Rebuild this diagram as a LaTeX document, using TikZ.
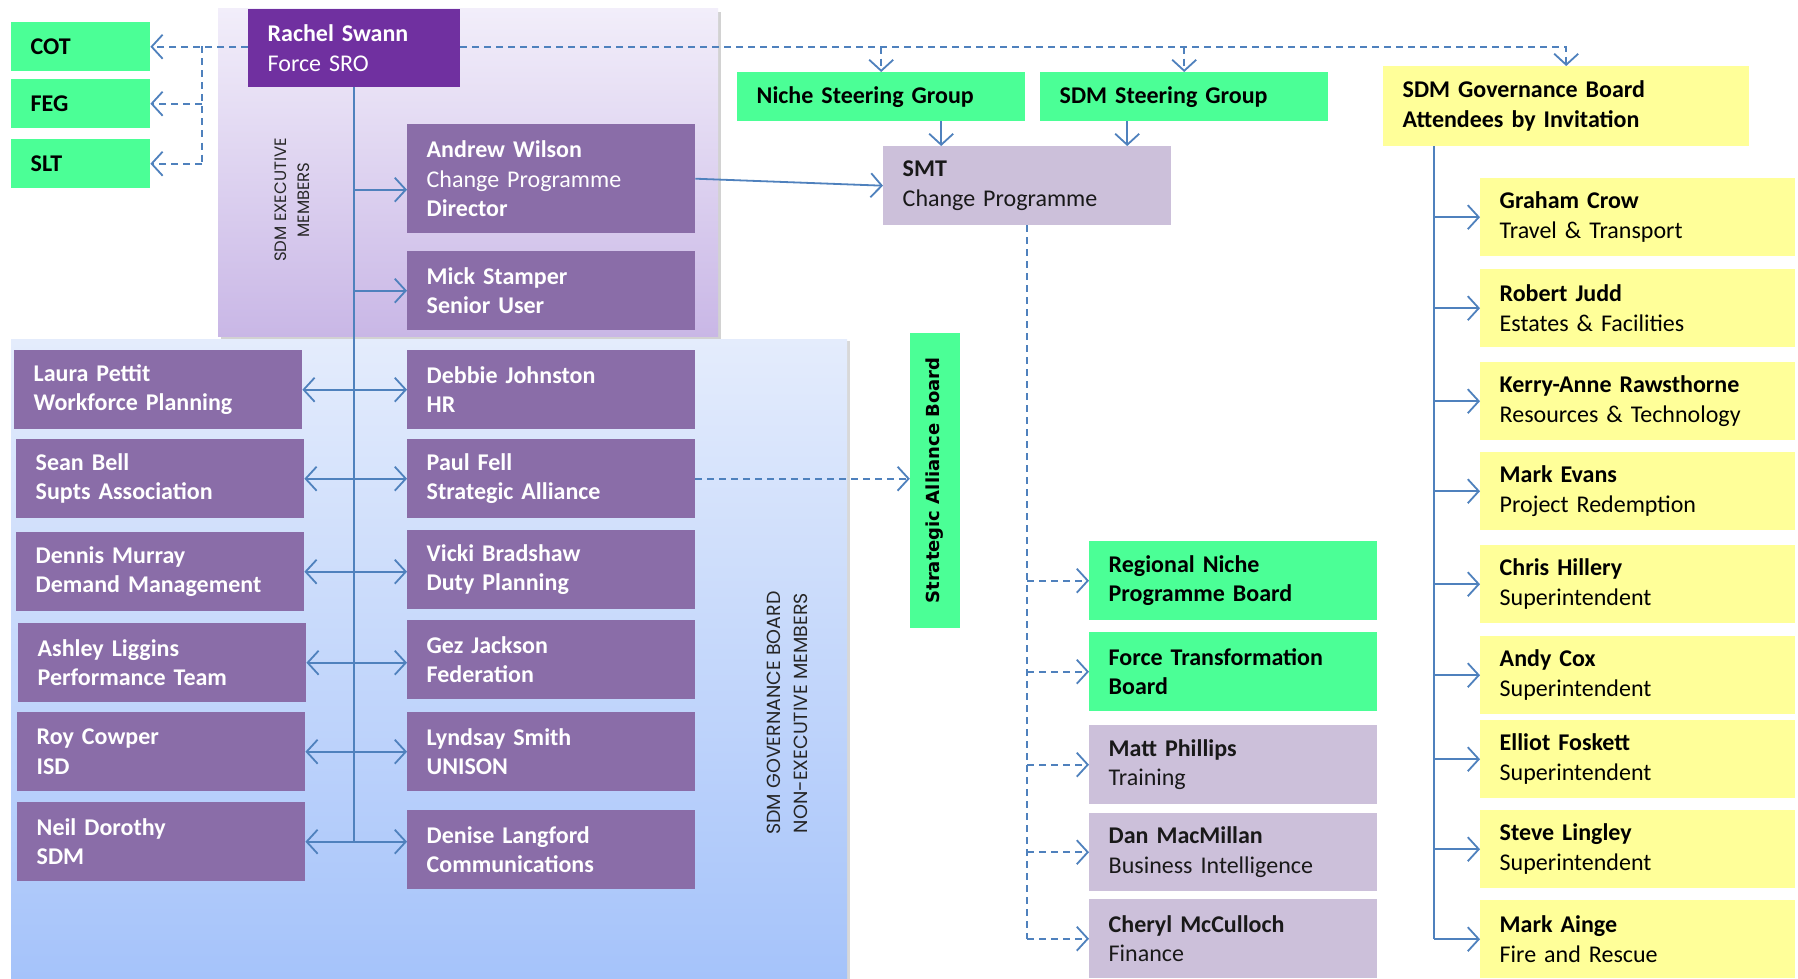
\documentclass[tikz,border=0pt]{standalone}
\usepackage{fontspec}
\setmainfont{Carlito}
\newfontfamily\capsfont{Poppins}
\newfontfamily\boardfont{DejaVu Sans}
\usetikzlibrary{arrows,arrows.meta,shapes,shadows}

\definecolor{sdmgreen}{HTML}{4BFF96}
\definecolor{sdmyellow}{HTML}{FFFF99}
\definecolor{sroviolet}{HTML}{7030A0}
\definecolor{memberviolet}{HTML}{8A6DA8}
\definecolor{smtlilac}{HTML}{CCC0DA}
\definecolor{linkblue}{HTML}{4F81BD}
\definecolor{exectop}{HTML}{F2EEFA}
\definecolor{execbottom}{HTML}{C9B7E6}
\definecolor{boardtop}{HTML}{E4ECFC}
\definecolor{boardbottom}{HTML}{A5C3FA}

\tikzset{
  orgbox/.style={rectangle, anchor=north west, align=left, inner xsep=19.5pt, inner ysep=0pt,
    minimum height=79pt, font=\fontsize{24}{29.5}\selectfont},
  tag/.style={orgbox, fill=sdmgreen, text=black, minimum width=139pt, text width=100pt,
    minimum height=49pt, font=\fontsize{24}{29.5}\selectfont\bfseries},
  member/.style={orgbox, fill=memberviolet, text=white, minimum width=288pt, text width=249pt,
    font=\fontsize{24}{29.5}\selectfont\bfseries},
  steer/.style={orgbox, fill=sdmgreen, text=black, minimum width=288pt, text width=249pt,
    font=\fontsize{24}{29.5}\selectfont\bfseries},
  lilac/.style={orgbox, fill=smtlilac, text=black!90, minimum width=288pt, text width=249pt},
  invitee/.style={orgbox, fill=sdmyellow, text=black, minimum width=315pt, text width=276pt, minimum height=78pt},
  panellabel/.style={rotate=90, align=center, text=black!85},
  link/.style={draw=linkblue, line width=1.8pt, ->},
  bilink/.style={draw=linkblue, line width=1.8pt, <->},
  bus/.style={draw=linkblue, line width=1.8pt},
  dashbus/.style={draw=linkblue, line width=1.8pt, dash pattern=on 7pt off 5pt},
  dashlink/.style={dashbus, ->}
}

\begin{document}
\begin{tikzpicture}[x = 1pt, y = -1pt, >={Straight Barb[length=11pt,width=24pt]}]
\useasboundingbox (0,0) rectangle (1798,979);
\fill[white] (0,0) rectangle (1798,979);

% panels
\shade[top color=boardtop, bottom color=boardbottom,
  drop shadow={shadow xshift=3pt, shadow yshift=-2pt, opacity=0.3}] (11,339) rectangle (847,979);
\shade[top color=exectop, bottom color=execbottom,
  drop shadow={shadow xshift=3pt, shadow yshift=-3pt, opacity=0.35}] (218,9) rectangle (718,336);
\node[panellabel, font=\capsfont\fontsize{16.5}{23}\selectfont] (execlabel) at (292,200) {SDM EXECUTIVE\\MEMBERS};
\node[panellabel, font=\capsfont\fontsize{19}{27}\selectfont] (nonexeclabel) at (787,713) {SDM GOVERNANCE BOARD\\NON-EXECUTIVE MEMBERS};

\node[tag] (cot) at (11,22) {COT};
\node[tag] (feg) at (11,79) {FEG};
\node[tag] (slt) at (11,139) {SLT};

\node[orgbox, fill=sroviolet, text=white, minimum width=212pt, text width=173pt, minimum height=78pt] (rachel) at (248,9) {\textbf{Rachel Swann}\\Force SRO};
\node[member, minimum height=109pt] (andrew) at (407,124) {Andrew Wilson\\{\mdseries Change Programme}\\Director};
\node[member] (mick) at (407,251) {Mick Stamper\\Senior User};

\node[member] (laura) at (14,350) {Laura Pettit\\Workforce Planning};
\node[member] (sean) at (16,439) {Sean Bell\\Supts Association};
\node[member] (dennis) at (16,532) {Dennis Murray\\Demand Management};
\node[member] (ashley) at (18,623) {Ashley Liggins\\Performance Team};
\node[member] (roy) at (17,712) {Roy Cowper\\ISD};
\node[member] (neil) at (17,802) {Neil Dorothy\\SDM};

\node[member] (debbie) at (407,350) {Debbie Johnston\\HR};
\node[member] (paul) at (407,439) {Paul Fell\\Strategic Alliance};
\node[member] (vicki) at (407,530) {Vicki Bradshaw\\Duty Planning};
\node[member] (gez) at (407,620) {Gez Jackson\\Federation};
\node[member] (lyndsay) at (407,712) {Lyndsay Smith\\UNISON};
\node[member] (denise) at (407,810) {Denise Langford\\Communications};

\node[rectangle, fill=sdmgreen, rotate=90, minimum width=295pt, minimum height=50pt, inner sep=0pt,
  font=\boardfont\fontsize{18}{20}\selectfont\bfseries] (alliance) at (935,480.5) {Strategic Alliance Board};

\node[steer, minimum height=49pt] (niche) at (737,72) {Niche Steering Group};
\node[steer, minimum height=49pt] (steering) at (1040,72) {SDM Steering Group};
\node[orgbox, fill=sdmyellow, text=black, minimum width=366pt, text width=327pt, minimum height=80pt,
  font=\fontsize{24}{29.5}\selectfont\bfseries] (govboard) at (1383,66) {SDM Governance Board\\Attendees by Invitation};
\node[lilac] (smt) at (883,146) {\textbf{SMT}\\Change Programme};

\node[steer] (regional) at (1089,541) {Regional Niche\\Programme Board};
\node[steer] (transform) at (1089,632) {Force Transformation\\Board};
\node[lilac] (matt) at (1089,725) {\textbf{Matt Phillips}\\Training};
\node[lilac, minimum height=78pt] (dan) at (1089,813) {\textbf{Dan MacMillan}\\Business Intelligence};
\node[lilac] (cheryl) at (1089,899) {\textbf{Cheryl McCulloch}\\Finance};

\node[invitee] (graham) at (1480,178) {\textbf{Graham Crow}\\Travel \& Transport};
\node[invitee] (robert) at (1480,269) {\textbf{Robert Judd}\\Estates \& Facilities};
\node[invitee] (kerry) at (1480,362) {\textbf{Kerry-Anne Rawsthorne}\\Resources \& Technology};
\node[invitee] (evans) at (1480,452) {\textbf{Mark Evans}\\Project Redemption};
\node[invitee] (chris) at (1480,545) {\textbf{Chris Hillery}\\Superintendent};
\node[invitee] (andy) at (1480,636) {\textbf{Andy Cox}\\Superintendent};
\node[invitee] (elliot) at (1480,720) {\textbf{Elliot Foskett}\\Superintendent};
\node[invitee] (steve) at (1480,810) {\textbf{Steve Lingley}\\Superintendent};
\node[invitee] (ainge) at (1480,900) {\textbf{Mark Ainge}\\Fire and Rescue};

% executive spine
\draw[bus] (rachel.south) -- (rachel.south |- neil.east);
\draw[link] ([yshift=-11pt]rachel.south |- andrew.west) -- ([yshift=-11pt]andrew.west);
\draw[link] (rachel.south |- mick.west) -- (mick.west);
\foreach \l/\r in {laura/debbie, sean/paul, dennis/vicki, ashley/gez, roy/lyndsay, neil/denise}
  \draw[bilink] (\l.east) -- (\l.east -| \r.west);

% reporting lines to the left
\coordinate (tagbus) at (202,46.5);
\draw[dashlink] (rachel.west |- cot.east) -- (cot.east);
\draw[dashbus] (tagbus) -- (tagbus |- slt.east);
\draw[dashlink] (tagbus |- feg.east) -- (feg.east);
\draw[dashlink] (tagbus |- slt.east) -- (slt.east);

% top bus
\draw[dashlink] (rachel.east |- cot.east) -- (govboard.north |- cot.east) -- (govboard.north);
\draw[dashlink] (niche.north |- cot.east) -- (niche.north);
\draw[dashlink] (steering.north |- cot.east) -- (steering.north);

\draw[link] (andrew.east) -- (smt.west);
\draw[link] ([xshift=60pt]niche.south) -- ([xshift=60pt]niche.south |- smt.north);
\draw[link] ([xshift=-57pt]steering.south) -- ([xshift=-57pt]steering.south |- smt.north);
\draw[dashlink] (paul.east) -- (paul.east -| alliance.north);

% SMT branches
\draw[dashbus] (smt.south) -- (smt.south |- cheryl.west);
\foreach \b in {regional, transform, matt, dan, cheryl}
  \draw[dashlink] (smt.south |- \b.west) -- (\b.west);

% invitees
\coordinate (govspine) at ([xshift=51pt]govboard.south west);
\draw[bus] (govspine) -- (govspine |- ainge.west);
\foreach \b in {graham, robert, kerry, evans, chris, andy, elliot, steve, ainge}
  \draw[link] (govspine |- \b.west) -- (\b.west);
\end{tikzpicture}
\end{document}
